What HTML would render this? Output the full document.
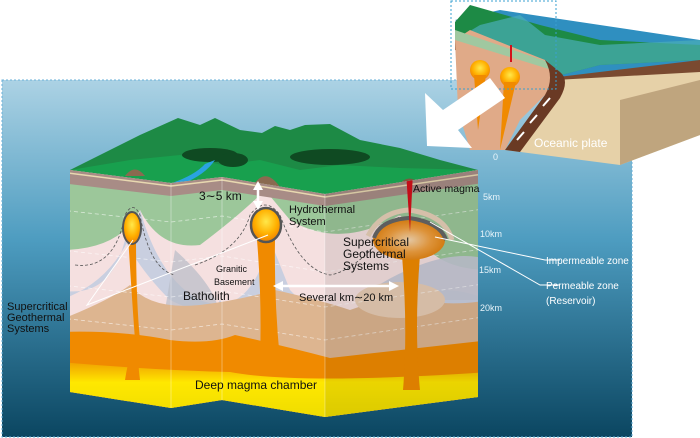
<!DOCTYPE html>
<html><head><meta charset="utf-8"><style>
html,body{margin:0;padding:0;background:#fff;}
svg{display:block;font-family:"Liberation Sans",sans-serif;}
</style></head><body>
<svg width="700" height="438" viewBox="0 0 700 438" xmlns="http://www.w3.org/2000/svg">
<defs>
<linearGradient id="bg" x1="0" y1="0" x2="0" y2="1">
<stop offset="0" stop-color="#acd2e4"/><stop offset="0.45" stop-color="#4d9cc0"/><stop offset="1" stop-color="#0b4661"/>
</linearGradient>
<linearGradient id="yel" x1="0" y1="0" x2="0" y2="1">
<stop offset="0" stop-color="#f0a000"/><stop offset="0.3" stop-color="#ffe800"/><stop offset="1" stop-color="#e8d800"/>
</linearGradient>
<radialGradient id="mag" cx="0.5" cy="0.4" r="0.6"><stop offset="0" stop-color="#ffe84a"/><stop offset="0.6" stop-color="#ffb000"/><stop offset="1" stop-color="#f08000"/></radialGradient>
<radialGradient id="mag2" cx="0.5" cy="0.5" r="0.6"><stop offset="0" stop-color="#f8d8b0"/><stop offset="0.5" stop-color="#f0a040"/><stop offset="1" stop-color="#e07a00"/></radialGradient>
<clipPath id="blk"><polygon points="70,170 171,183 222,177 325,194 478,170 478,397 325,417 222,400 171,408 70,392"/></clipPath>
</defs>
<rect x="2" y="80" width="630" height="357" fill="url(#bg)" stroke="#6ab0d8" stroke-dasharray="2,2"/>

<!-- terrain -->
<path d="M70,170 L110,150 L140,135 L178,118 L200,125 L215,118 L240,130 L262,133 L275,126 L290,130 L305,125 L330,124 L360,140 L400,148 L440,160 L478,170 L325,194 L222,177 L171,183 Z" fill="#1d8a45"/>
<path d="M70,170 L130,160 L180,155 L222,165 L260,160 L300,170 L340,165 L400,168 L478,170 L325,194 L222,177 L171,183 Z" fill="#18a04e"/>
<ellipse cx="210" cy="155" rx="28" ry="7" fill="#0f4a22"/>
<ellipse cx="233" cy="160" rx="15" ry="7" fill="#0f4a22"/>
<ellipse cx="330" cy="157" rx="40" ry="8" fill="#0f4a22"/>
<path d="M172,183 Q195,175 205,164 L215,160 Q205,175 182,184 Z" fill="#2aa3e0"/>
<path d="M125,176 Q135,163 145,176 Z" fill="#8a6a50"/>
<path d="M253,186 Q265,166 280,187 Z" fill="#8a6a50"/>
<path d="M398,186 Q408,172 420,184 Z" fill="#7a5a40"/>

<!-- block front -->
<g clip-path="url(#blk)">
<rect x="60" y="160" width="430" height="270" fill="#f5e0e0"/>
<path d="M60,165 L490,165 L490,270 Q440,270 420,240 L400,215 Q340,250 290,220 L265,190 Q240,215 200,245 Q160,250 140,210 Q120,250 60,250 Z" fill="#9cc79a"/>
<path d="M60,290 Q110,300 125,240 Q140,270 170,300 Q210,320 220,300 L240,330 L490,320 L490,300 Q440,280 400,300 Q330,335 290,290 L270,240 Q250,320 200,300 Q160,280 140,210 Q120,280 60,300 Z" fill="#c9cfe0"/>
<path d="M60,300 L490,300 L490,260 Q460,250 420,265 Q380,280 360,300 Z" fill="#c5c8d6" opacity="0.9"/>
<path d="M175,250 Q220,290 220,320 L240,340 L160,340 Z" fill="#b8bcc8" opacity="0.7"/>
<path d="M60,320 Q110,300 130,285 Q150,310 200,305 Q240,300 275,290 Q320,300 350,310 Q380,300 400,290 Q430,310 490,300 L490,430 L60,430 Z" fill="#ddb590"/>
<ellipse cx="400" cy="300" rx="45" ry="18" fill="#e8cdb5"/>
<path d="M60,332 Q120,330 170,340 Q210,345 235,335 Q280,345 330,358 Q400,350 490,340 L490,430 L60,430 Z" fill="#f08a00"/>
<path d="M60,362 Q150,370 230,372 Q300,385 490,372 L490,430 L60,430 Z" fill="url(#yel)"/>
<polygon points="60,165 171,178 222,172 325,189 490,165 490,182 325,206 222,190 171,196 60,183" fill="#a88c86"/>
<polyline points="60,172 171,186 222,180 325,197 490,173" fill="none" stroke="#e8d8b0" stroke-width="1.5"/>
<g stroke="#ffffff" stroke-opacity="0.6" stroke-dasharray="4,3" fill="none" stroke-width="0.8">
<polyline points="60,210 171,222 222,216 325,232 490,208"/>
<polyline points="60,250 171,262 222,256 325,272 490,248"/>
<polyline points="60,285 171,297 222,291 325,307 490,283"/>
<polyline points="60,318 171,330 222,324 325,340 490,316"/>
</g>
<path d="M75,265 Q115,270 125,215 Q133,200 140,215 Q150,270 175,275" fill="none" stroke="#555" stroke-dasharray="3,2" stroke-width="0.8"/>
<path d="M195,265 Q240,250 250,215 Q265,195 280,215 Q300,270 330,275 Q360,270 400,215" fill="none" stroke="#555" stroke-dasharray="3,2" stroke-width="0.8"/>
<path d="M128,235 Q132,300 135,340 Q128,360 125,380 L140,380 Q137,360 140,340 Q136,300 136,235 Z" fill="#f08a00"/>
<ellipse cx="132" cy="228" rx="9" ry="16" fill="url(#mag)" stroke="#555" stroke-width="2"/>
<path d="M257,240 Q262,300 260,360 L280,360 Q274,300 275,240 Z" fill="#f08a00"/>
<ellipse cx="266" cy="225" rx="15" ry="17" fill="url(#mag)" stroke="#555" stroke-width="2.5"/>
<path d="M402,255 Q408,330 403,390 L420,390 Q414,330 420,255 Z" fill="#f08a00"/>
<ellipse cx="409" cy="240" rx="36" ry="20" fill="url(#mag2)"/>
<path d="M374,238 Q380,220 409,218 Q440,222 446,240" fill="none" stroke="#666" stroke-width="4"/>
<path d="M368,236 Q380,212 409,210 Q445,215 452,240" fill="none" stroke="#e8d0b8" stroke-width="5"/>
<polygon points="406,172 413,172 410,232" fill="#d4101a"/>
</g>
<g stroke="#ffffff" stroke-opacity="0.35"><line x1="171" y1="183" x2="171" y2="408"/><line x1="222" y1="177" x2="222" y2="400"/><line x1="325" y1="194" x2="325" y2="417"/></g>
<path d="M325,194 L478,170 L478,397 L325,417 Z" fill="#000" opacity="0.08"/>

<line x1="258" y1="183" x2="258" y2="208" stroke="#fff" stroke-width="2.5"/>
<polygon points="253,190 258,181 263,190" fill="#fff"/><polygon points="253,201 258,210 263,201" fill="#fff"/>
<line x1="276" y1="286" x2="395" y2="286" stroke="#fff" stroke-width="2.5"/>
<polygon points="283,281 273,286 283,291" fill="#fff"/><polygon points="389,281 399,286 389,291" fill="#fff"/>
<g stroke="#fff" stroke-width="1" fill="none">
<polyline points="133,240 87,305 268,235"/>
<polyline points="435,237 545,260 560,260"/>
<polyline points="430,222 540,285 560,285"/>
</g>

<!-- inset -->
<polygon points="455,20 500,10 700,40 700,75 640,70 560,80" fill="#2f8fc0"/>
<polygon points="455,22 470,5 540,25 600,40 700,45 700,60 600,65 550,78 500,70 455,40" fill="#1d8a45"/>
<path d="M455,40 L480,25 L520,15 L545,35 L600,45 L700,40 L700,60 L600,65 L550,78 L500,70 Z" fill="#4aaeb8" opacity="0.7"/>
<polygon points="455,35 500,50 550,78 700,60 700,78 550,98 500,65 455,50" fill="#7a4a30"/>
<polygon points="470,30 545,60 560,80 520,120 505,150 470,150 458,110 455,40" fill="#e0aa88"/>
<polygon points="455,30 548,62 552,70 455,40" fill="#a0c8a0"/>
<polygon points="555,80 700,72 700,135 620,165 505,150 535,110" fill="#e6d1a8"/>
<polygon points="620,165 700,135 700,80 620,100" fill="#bfa57e"/>
<path d="M545,60 Q555,78 545,95 L505,150 L520,152 L560,98 Q570,80 560,72 Z" fill="#6a3a24"/>
<circle cx="480" cy="70" r="10" fill="url(#mag)"/><circle cx="510" cy="77" r="10" fill="url(#mag)"/>
<path d="M474,75 L478,130 L486,75 Z M504,82 L500,150 L516,82 Z" fill="#f08a00"/>
<line x1="511" y1="45" x2="511" y2="62" stroke="#d4101a" stroke-width="2"/>
<g stroke="#fff" stroke-width="2"><line x1="550" y1="98" x2="543" y2="106"/><line x1="537" y1="115" x2="530" y2="123"/><line x1="524" y1="132" x2="517" y2="140"/></g>
<rect x="451" y="1" width="105" height="88" fill="none" stroke="#3aa0d0" stroke-dasharray="2,2"/>
<polygon points="425,93 443,110 490,78 505,98 458,130 472,148 427,146" fill="#fff"/>
<text x="534" y="147" font-size="12" fill="#fff">Oceanic plate</text>

<g fill="#e8f4fa" font-size="9"><text x="493" y="160">0</text><text x="483" y="200">5km</text><text x="480" y="237">10km</text><text x="479" y="273">15km</text><text x="480" y="311">20km</text></g>

<g fill="#111">
<text x="199" y="200" font-size="12">3∼5 km</text>
<text x="289" y="213" font-size="11">Hydrothermal</text><text x="289" y="225" font-size="11">System</text>
<text x="413" y="192" font-size="10.5">Active magma</text>
<text x="343" y="246" font-size="12">Supercritical</text><text x="343" y="258" font-size="12">Geothermal</text><text x="343" y="270" font-size="12">Systems</text>
<text x="216" y="272" font-size="9">Granitic</text><text x="214" y="285" font-size="9">Basement</text>
<text x="183" y="300" font-size="12">Batholith</text>
<text x="299" y="301" font-size="11">Several km∼20 km</text>
<text x="7" y="310" font-size="11">Supercritical</text><text x="7" y="321" font-size="11">Geothermal</text><text x="7" y="332" font-size="11">Systems</text>
<text x="195" y="389" font-size="12">Deep magma chamber</text>
</g>
<g fill="#fff" font-size="10"><text x="546" y="264">Impermeable zone</text><text x="546" y="289">Permeable zone</text><text x="546" y="304">(Reservoir)</text></g>
</svg>
</body></html>
